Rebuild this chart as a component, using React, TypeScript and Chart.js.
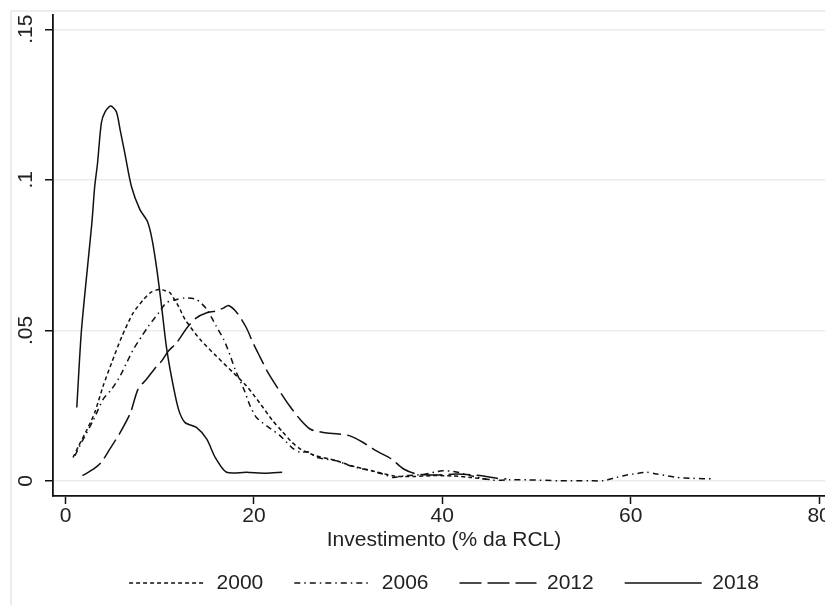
import React, { useEffect, useRef } from "react";
import { Chart, registerables } from "chart.js";

Chart.register(...registerables);

// ---- data ----
const SERIES_LABELS = ["2000", "2006", "2012", "2018"];

const X_2000 = [0.8, 1.4, 2.3, 3.1, 4.0, 4.9, 6.0, 7.2, 8.3, 9.0, 9.9, 10.6, 11.1, 12.0, 12.7, 14.3, 16.0, 17.8, 19.2, 20.6, 22.0, 23.0, 24.0, 25.0, 26.5, 28.8, 30.2, 32.0, 33.7, 35.0, 37.0, 39.0, 41.0, 43.0, 45.0];
const Y_2000 = [0.0078, 0.0117, 0.0172, 0.0227, 0.0316, 0.0393, 0.0481, 0.0559, 0.0603, 0.0625, 0.0636, 0.0632, 0.0625, 0.058, 0.0536, 0.047, 0.0415, 0.036, 0.0316, 0.026, 0.02, 0.0165, 0.013, 0.0105, 0.0085, 0.0067, 0.0052, 0.0038, 0.0025, 0.0016, 0.0015, 0.0018, 0.0017, 0.0012, 0.0005];

const X_2006 = [1.0, 1.7, 3.0, 4.0, 4.9, 5.8, 6.5, 7.2, 8.1, 8.8, 9.9, 10.7, 11.8, 12.7, 13.9, 15.0, 16.0, 16.8, 17.5, 18.0, 19.0, 19.6, 20.3, 21.5, 22.8, 24.0, 24.9, 25.7, 26.7, 28.8, 30.2, 32.0, 33.7, 34.8, 36.2, 38.0, 40.0, 41.5, 43.0, 45.4, 47.2, 49.0, 52.5, 55.7, 57.1, 58.5, 59.6, 60.3, 61.7, 62.8, 64.9, 66.6, 68.8];
const Y_2006 = [0.0084, 0.0128, 0.0205, 0.0272, 0.0305, 0.0349, 0.0393, 0.0437, 0.0481, 0.0514, 0.0559, 0.0592, 0.0603, 0.0608, 0.0603, 0.057, 0.0514, 0.047, 0.0415, 0.0371, 0.03, 0.0249, 0.021, 0.018, 0.015, 0.0112, 0.0095, 0.0097, 0.0078, 0.0067, 0.0051, 0.0037, 0.0023, 0.0012, 0.0018, 0.0022, 0.0034, 0.003, 0.0018, 0.0003, 0.0004, 0.0004, 0.0001, 0.0001, 0.0001, 0.0012, 0.002, 0.0023, 0.0029, 0.0023, 0.0012, 0.0009, 0.0007];

const X_2012 = [1.8, 3.0, 3.8, 4.7, 5.8, 6.9, 7.7, 8.6, 9.7, 10.2, 10.9, 11.8, 12.9, 13.9, 15.0, 15.9, 16.8, 17.3, 18.2, 19.2, 19.9, 20.6, 21.5, 22.6, 23.8, 24.9, 26.0, 27.4, 29.0, 30.2, 31.6, 33.0, 34.6, 35.9, 37.3, 39.4, 41.5, 44.0, 45.8, 46.8];
const Y_2012 = [0.0018, 0.004, 0.0062, 0.0106, 0.0161, 0.0227, 0.0305, 0.0338, 0.0382, 0.0398, 0.0431, 0.0459, 0.0509, 0.0542, 0.0559, 0.0564, 0.0575, 0.0583, 0.0559, 0.0509, 0.0459, 0.0415, 0.036, 0.0305, 0.0249, 0.0205, 0.0172, 0.0161, 0.0156, 0.015, 0.0128, 0.01, 0.0073, 0.004, 0.0023, 0.002, 0.0023, 0.0018, 0.0009, 0.0007];

const X_2018 = [1.2, 1.7, 2.8, 3.1, 3.4, 3.8, 4.2, 4.8, 5.4, 5.8, 6.3, 7.0, 7.9, 8.7, 9.2, 9.7, 10.2, 10.7, 11.3, 12.0, 12.7, 13.9, 15.0, 15.9, 17.1, 19.2, 21.3, 23.0];
const Y_2018 = [0.0244, 0.0503, 0.0857, 0.0978, 0.1055, 0.1188, 0.1226, 0.1245, 0.1226, 0.1166, 0.1088, 0.0978, 0.0901, 0.0862, 0.0801, 0.0702, 0.058, 0.0448, 0.0338, 0.0238, 0.0194, 0.0178, 0.0139, 0.0078, 0.0029, 0.0029, 0.0026, 0.0029];

const X_TICKS = [0, 20, 40, 60, 80];
const X_TICK_LABELS = ["0", "20", "40", "60", "80"];
const Y_TICKS = [0, 0.05, 0.1, 0.15];
const Y_TICK_LABELS = ["0", ".05", ".1", ".15"];
const X_TITLE = "Investimento (% da RCL)";

const X_MIN = -1.327;
const X_MAX = 81.69;
const Y_MIN = -0.00497;
const Y_MAX = 0.15474;

const DASHES = [[4, 3], [6, 4, 1.5, 4], [22, 6], []];

const FONT = "'Liberation Sans', Arial, sans-serif";
const TEXT = "#222222";
const INK = "#111111";

const toPoints = (xs: number[], ys: number[]) => xs.map((x, i) => ({ x, y: ys[i] }));

const framePlugin = {
  id: "stataFrame",
  beforeDraw(chart: any) {
    const ctx = chart.ctx;
    ctx.save();
    ctx.fillStyle = "#ffffff";
    ctx.fillRect(0, 0, chart.width, chart.height);
    ctx.strokeStyle = "#e6e6e6";
    ctx.lineWidth = 1.5;
    ctx.strokeRect(11, 11, chart.width + 50, chart.height + 50);
    ctx.restore();
  },
};

export default function App() {
  const ref = useRef<HTMLCanvasElement | null>(null);

  useEffect(() => {
    if (!ref.current) return;
    const xs = [X_2000, X_2006, X_2012, X_2018];
    const ys = [Y_2000, Y_2006, Y_2012, Y_2018];
    const chart = new Chart(ref.current, {
      type: "line",
      data: {
        datasets: SERIES_LABELS.map((label, i) => ({
          label,
          data: toPoints(xs[i], ys[i]),
          borderColor: INK,
          backgroundColor: INK,
          borderWidth: 1.5,
          borderDash: DASHES[i],
          pointRadius: 0,
          tension: 0.25,
          fill: false,
        })),
      },
      options: {
        animation: false,
        responsive: false,
        devicePixelRatio: 1,
        layout: { padding: { left: 16, top: 15, right: 5, bottom: 1.5 } },
        plugins: {
          tooltip: { enabled: false },
          legend: {
            position: "bottom",
            fullSize: false,
            labels: {
              usePointStyle: true,
              pointStyle: "line",
              pointStyleWidth: 77,
              padding: 31,
              color: TEXT,
              font: { family: FONT, size: 21, lineHeight: 1 },
              generateLabels: (c: any) => {
                const base = (Chart.defaults as any).plugins.legend.labels.generateLabels(c);
                return base.map((it: any) => ({
                  ...it,
                  lineDash: DASHES[it.datasetIndex],
                  lineWidth: 1.5,
                  strokeStyle: INK,
                  fillStyle: INK,
                  pointStyle: "line",
                }));
              },
            },
          },
        },
        scales: {
          x: {
            type: "linear",
            min: X_MIN,
            max: X_MAX,
            afterBuildTicks: (scale: any) => {
              scale.ticks = X_TICKS.map((v) => ({ value: v }));
            },
            ticks: {
              color: TEXT,
              padding: 2,
              maxRotation: 0,
              font: { family: FONT, size: 21, lineHeight: 1 },
              callback: (_v: any, i: number) => X_TICK_LABELS[i],
            },
            grid: {
              drawOnChartArea: false,
              drawTicks: true,
              tickLength: 8,
              tickColor: INK,
              tickWidth: 1.5,
            },
            border: { display: true, color: INK, width: 1.8 },
            title: {
              display: true,
              text: X_TITLE,
              color: TEXT,
              font: { family: FONT, size: 21, lineHeight: 1 },
              padding: { top: 0.5, bottom: -9 },
            },
          },
          y: {
            type: "linear",
            min: Y_MIN,
            max: Y_MAX,
            afterBuildTicks: (scale: any) => {
              scale.ticks = Y_TICKS.map((v) => ({ value: v }));
            },
            ticks: {
              color: TEXT,
              padding: 4,
              minRotation: 90,
              maxRotation: 90,
              crossAlign: "center",
              font: { family: FONT, size: 21, lineHeight: 1 },
              callback: (_v: any, i: number) => Y_TICK_LABELS[i],
            },
            grid: {
              drawOnChartArea: true,
              color: "#ebebeb",
              lineWidth: 1.5,
              drawTicks: true,
              tickLength: 8,
              tickColor: INK,
              tickWidth: 1.5,
            },
            border: { display: true, color: INK, width: 1.8 },
          },
        },
      },
      plugins: [framePlugin],
    });
    return () => chart.destroy();
  }, []);

  return (
    <div
      style={{
        position: "fixed",
        left: 0,
        top: 0,
        width: 825,
        height: 605,
        overflow: "hidden",
        background: "#ffffff",
      }}
    >
      <canvas ref={ref} width={840} height={605} style={{ width: 840, height: 605, display: "block" }} />
    </div>
  );
}
